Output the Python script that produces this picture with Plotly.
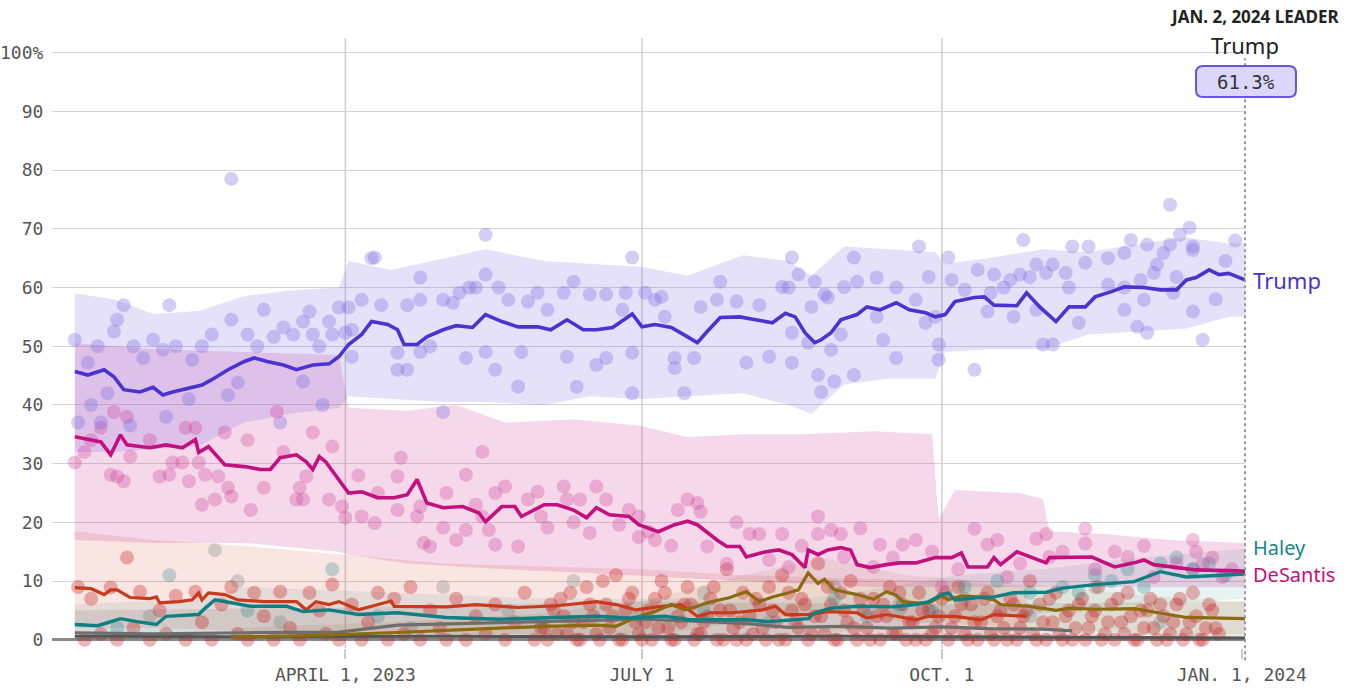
import plotly.graph_objects as go
import pandas as pd

# ---------------- DATA ----------------
def d(s):
    return s if s.startswith("2024") else "2023-" + s

trump_dates = ["01-08","01-12","01-17","01-20","01-23","01-28","02-01","02-04","02-07","02-12",
               "02-16","02-19","02-24","03-01","03-04","03-08","03-13","03-17","03-22","03-27",
               "03-30","04-02","04-06","04-09","04-14","04-17","04-19","04-23","04-26","05-01",
               "05-05","05-10","05-14","05-19","05-24","05-30","06-03","06-08","06-13","06-17",
               "06-22","06-28","07-01","07-05","07-10","07-15","07-18","07-21","07-25","07-31",
               "08-05","08-10","08-14","08-17","08-20","08-23","08-25","08-28","08-31","09-05",
               "09-08","09-12","09-17","09-21","09-26","09-29","10-02","10-05","10-11","10-14",
               "10-17","10-21","10-24","10-27","10-31","11-05","11-09","11-14","11-17","11-22",
               "11-26","12-02","12-07","12-12","12-15","12-18","12-22","12-25","12-28","2024-01-02"]
trump_values = [45.7,45.1,46,44.8,42.6,42.2,43,41.7,42.2,42.8,
                43.4,44.3,46,47.4,48,47.4,46.8,46,46.8,47,
                48.2,50.3,52,54.2,53.7,52.8,50.3,50.3,51.6,52.8,
                53.5,53.2,55.4,54.2,53.3,53.3,52.8,54.5,52.8,52.8,
                53.2,55.5,53.3,53.7,53.2,51.6,50.6,52.5,54.9,55,
                54.5,54,55.6,55,52.3,50.6,51.1,52.3,54.5,55.4,
                56.7,56.2,57.4,56.2,55.7,55,55.4,57.6,58.3,58.4,
                57,57,56.9,59.1,56.7,54.2,56.7,56.7,58.4,59.3,
                60.1,60,59.6,59.6,61.3,61.7,63,62.2,62.4,61.3]

desantis_dates = ["01-08","01-16","01-19","01-22","01-24","01-31","02-05","02-10","02-14","02-15",
                  "02-18","02-23","03-01","03-06","03-09","03-12","03-17","03-20","03-22","03-24",
                  "03-26","04-02","04-06","04-11","04-16","04-20","04-23","04-26","05-01","05-07",
                  "05-12","05-14","05-19","05-23","05-25","05-28","06-01","06-05","06-10","06-14",
                  "06-17","06-21","06-27","06-30","07-06","07-11","07-15","07-18","07-24","07-27",
                  "07-31","08-02","08-08","08-12","08-16","08-20","08-21","08-24","08-27","08-31",
                  "09-03","09-05","09-09","09-14","09-18","09-23","09-29","10-04","10-07","10-09",
                  "10-15","10-17","10-19","10-24","10-28","11-02","11-03","11-16","11-18","11-23",
                  "11-29","12-02","12-05","12-10","12-18","2024-01-02"]
desantis_values = [34.6,33.7,31.5,34.9,33.2,32.7,33.2,32.7,34.1,31.9,
                   32.9,29.8,29.5,29,29,31,31.5,30.3,29,31.2,
                   30.3,25,25.2,24.2,24.2,24.7,27.3,23.3,22.5,22.7,
                   21.6,20.1,22.7,22.7,21,21.8,23,23,22.1,20.8,
                   22.5,21.3,21,19.6,18.4,19.6,20.2,19.6,17,15.9,
                   15.9,14.1,15,15.3,14.5,12.3,15.3,14.5,15.3,15.7,
                   15.3,12.8,12.3,12.8,13.1,13.1,14,14,14.8,12.4,
                   12.4,14,12.8,15,14.1,13.1,14,14.1,13.6,12.4,
                   13.1,13.6,12.8,12.4,11.9,11.7]

haley_dates = ["01-08","01-15","01-18","01-22","01-27","02-02","02-05","02-15","02-17","02-20",
               "02-25","03-03","03-14","03-19","03-27","04-05","04-17","05-02","05-18","06-02",
               "06-17","06-27","07-08","07-16","08-02","08-09","08-21","08-23","08-28","09-05",
               "09-16","09-23","09-27","10-01","10-03","10-05","10-12","10-17","10-23","11-02",
               "11-07","11-17","11-29","12-07","12-15","2024-01-02"]
haley_values = [2.6,2.4,2.9,3.6,3.1,2.6,4,4.3,5.4,6.8,
                6.3,5.7,5.7,4.8,5.1,4.3,4.6,3.8,3.5,3.7,
                4,3.7,4,3.4,3.4,3.1,3.6,4.6,5.4,5.7,
                5.6,6,6.5,7.7,8,6.8,7.2,7.3,8,8.1,
                8.8,9.4,9.9,11.6,10.7,11.2]

pence_dates = ["01-08","01-13","01-17","01-19","01-21","01-25","01-31","02-02","02-03","02-09",
               "02-13","02-15","02-16","02-18","02-23","02-27","03-07","03-17","03-20","03-23",
               "03-27","03-30","04-05","04-09","04-15","04-16","05-02","05-11","05-24","06-05",
               "06-17","06-23","06-29","07-07","07-13","07-18","07-22","07-29","08-07","08-11",
               "08-14","08-21","08-27","09-05","09-08","09-14","09-23","09-27","10-05","10-13",
               "10-17","10-27"]
pence_values = [8.9,8.7,7.7,8.5,8.5,7.2,7,7.3,6.3,6.5,
                6.8,8,6.8,8,7.7,6.8,6.5,6.5,5.1,6.5,
                6,6.5,5.1,5.7,6.6,5.7,5.6,6,5.5,5.8,
                6.5,6,5.1,5.7,6,4,4.6,4.6,5.1,5.7,
                4.3,4.3,4.8,4.6,3.7,4.3,3.4,4,4,3.4,
                4.3,4]

ramaswamy_dates = ["02-25","03-20","04-15","05-10","06-01","06-17","06-23","06-29","07-05","07-10",
                   "07-14","07-18","07-21","07-28","08-02","08-06","08-10","08-15","08-18","08-21",
                   "08-24","08-26","08-29","09-05","09-10","09-14","09-17","09-19","09-23","09-27",
                   "10-01","10-03","10-07","10-12","10-17","10-19","10-28","11-05","11-09","11-17",
                   "11-29","12-15","2024-01-02"]
ramaswamy_values = [0.5,0.7,1.2,1.8,2.3,2.5,2.3,3.8,4.8,6,
                    5.1,5.7,6.3,7.2,8.2,6.5,7.3,8,8.5,11.4,
                    9.6,10.3,8.5,7.7,6.9,8.2,7.6,6.5,6.3,6.3,
                    7.5,6.8,7.5,7.3,6.8,6,5.7,5,5.4,5.2,
                    5.3,3.8,3.6]

scott_dates = ["01-08","02-01","03-01","03-30","04-17","05-10","06-01","06-17","07-01","07-15",
               "08-01","08-15","09-01","09-15","10-01","10-15","11-01","11-10"]
scott_values = [1.2,1.0,1.2,1.3,2.5,2.8,3.0,3.3,3.5,3.2,
                2.8,2.1,2.3,2.0,2.2,1.9,1.8,1.5]

other_dates = ["01-08","03-01","05-01","07-01","09-01","11-01","2024-01-02"]
other_values = [0.6,0.5,0.6,0.5,0.6,0.4,0.3]

# uncertainty bands
trump_band_dates = ["01-08","01-20","02-01","02-15","03-01","03-15","03-30","04-02","04-15","05-01",
                    "05-14","06-01","06-15","07-01","07-15","08-01","08-15","08-22","09-01","09-15",
                    "09-29","10-02","10-15","11-01","11-15","12-01","12-15","12-28","2024-01-02"]
trump_band_upper = [59,58,55.5,56,58.5,59.5,60,64.5,63,65,
                    66.5,64.5,64,63.5,62,65.5,64.5,62,67,66.5,
                    66,64,65,66.5,66,67.5,68.5,67.5,67.5]
trump_band_lower = [32,32,32.5,33,37,38.5,39.5,41.5,41,40.5,
                    40.5,40,41.5,41,41.5,42,40,38.5,43.5,44.5,
                    44.5,49,49.5,49.5,52,52.5,53,55,55]

desantis_band_dates = ["01-08","02-01","03-01","03-30","04-02","04-20","05-05","05-20","06-10","06-30",
                       "07-15","08-01","08-20","09-10","09-28","09-30","10-05","10-25","11-01","11-03",
                       "11-20","12-10","2024-01-02"]
desantis_band_upper = [50.5,49.5,49,48.5,39.5,39,40,37,37.5,36.5,
                       34.5,35,35,35.5,35,20.5,25.5,25,24,18.5,
                       18,17,16.5]
desantis_band_lower = [17,16.5,16.5,15,14.5,13,12.5,12,11.5,11,
                       10.5,10,9.5,9,9,9,9,9,9,9,
                       9,9,9]

pence_band_dates = ["01-08","02-01","03-01","04-01","05-01","06-01","07-01","08-01","09-01","10-01","10-27"]
pence_band_upper = [18.5,17,16,14.5,13,12.5,12,11,10.5,10,9]
pence_band_lower = [2,2,1.5,1.5,1,1,0.5,0.5,0.5,0.5,0.5]

haley_band_dates = ["01-08","02-15","03-01","04-15","06-01","07-15","08-20","09-15","10-05","11-01","12-01","2024-01-02"]
haley_band_upper = [6,7,9,8,7,7,7,9,11,12,14,15.5]
haley_band_lower = [0,0.5,1.5,1,0.5,0.5,1,2,3.5,4.5,6,7]

ramaswamy_band_dates = ["02-25","04-15","06-01","07-01","08-01","08-25","09-20","10-15","11-15","12-15","2024-01-02"]
ramaswamy_band_upper = [2,3,4.5,6.5,11,14,11,10,8.5,7,6.5]
ramaswamy_band_lower = [0,0,0,0.5,3,5,3,2.5,1.5,1,1]

grey_band_dates = ["01-08","04-01","07-01","10-01","2024-01-02"]
grey_band_upper = [5,5.5,6.5,6,6.5]
grey_band_lower = [0,0,0,0,0]

# individual polls: (days after 2023-01-01, percent)
trump_polls = [(7,51.1),(8,37),(11,47.2),(14,50),(15,37),(17,42),(19,52.5),(20,54.5),(22,57),(25,50),
    (28,48),(31,51.1),(34,49.4),(36,57),(35,38),(38,50),(43,47.7),(46,50),(49,52),(54,41.7),
    (55,78.5),(55,54.5),(57,43.8),(60,52),(63,50),(65,56.2),(68,51.6),(71,53.2),(74,52),(77,54.2),
    (79,55.9),(77,44),(80,52),(82,50),(85,54.2),(86,52),(88,56.6),(91,56.6),(92,48.2),(95,57.9),
    (98,65),(12,40),(24,36.5),(42,41),(70,37),(83,40),
    (99,65.1),(113,61.7),(133,69),(133,62.2),(128,60),(130,60),(137,60),(125,59.1),(101,57),(109,57),
    (113,57.9),(120,57.9),(123,57.4),(140,57.9),(146,57.6),(149,59.1),(152,56.2),(157,59.1),(160,61),
    (165,58.8),(170,58.8),(176,59.1),(178,65.1),(182,59.1),(185,57.9),(90,52.3),(92,52.8),(106,48.9),
    (106,46),(109,46),(113,49),(116,50),(127,48),(133,49),(136,46),(143,43.1),(144,49),(158,48.2),
    (161,43.1),(167,46.8),(170,48),(178,48.9),(178,42),(120,38.8),(191,48),(191,46.3),(194,42),
    (197,48),(205,61),(210,57.6),(213,47.2),(220,48.2),(224,60.1),(217,57),(204,57.9),(199,56.7),
    (188,55),(175,56.2),(187,58.4),
    (343,74.1),(349,70.2),(346,69),(298,68.1),(266,67),(313,67),(318,67),(331,68.1),(336,67.3),
    (343,67.3),(350,67),(227,65.1),(246,65.1),(329,65.9),(341,65.9),(324,65),(275,65.1),(302,63.9),
    (307,63.9),(317,64.2),(339,63.9),(350,66.4),(284,63),(289,62.2),(294,61.3),(300,61.8),(305,62.5),
    (311,62.5),(334,61.3),(338,62.5),(345,61.8),(324,60.5),(329,60),(335,57.9),(344,59.1),(312,60),
    (229,62.2),(234,61),(237,58.8),(243,60.1),(247,61),(253,61.7),(259,60),(269,61.8),(276,61.3),
    (280,59.6),(288,59.1),(292,60),(297,62.2),(226,60),(233,56.7),(238,58.3),(253,55),(265,57.9),
    (268,54),(271,55),(287,55.9),(295,55),(302,56.2),(329,56.2),(350,55.9),(333,53.3),(336,52.3),
    (315,54),(227,52.3),(232,50.6),(239,49.4),(242,52),(255,51.1),(272,50.3),(272,47.7),(259,48),
    (227,47.2),(235,45.1),(236,42.2),(240,44),(246,45.1),(283,46),(304,50.3),(307,50.3),(353,51.1),
    (363,68),(360,64.5),(357,58)]

desantis_polls = [(19,38.8),(23,38),(15,36.1),(7,30.2),(10,32),(18,28.1),(22,27),(20,27.8),(24,31.2),
    (33,27.8),(36,28.1),(41,36.1),(44,36.1),(40,30.2),(37,30.2),(42,27),(47,28.1),(45,30.2),(53,35.3),
    (51,27.8),(54,25.9),(55,24.4),(46,23),(50,23.9),(61,22.1),(65,25.9),(69,38.8),(71,32),(75,23.9),
    (77,23.9),(78,27.8),(80,35.3),(76,25.9),(85,23.9),(86,32.9),(89,22.7),(90,20.8),(95,21),(99,19.9),
    (106,27.8),(107,31),(106,22.1),(112,21),(113,22.7),(114,16.5),(116,15.9),(120,19.1),(124,17),
    (127,28.1),(121,25),(127,18.7),(132,21),(134,18.7),(136,16.2),(136,25),(139,26.1),(143,15.9),
    (146,23.9),(149,25.2),(152,19.1),(157,26.1),(158,23.9),(162,23.9),(165,18.2),(167,26.1),(170,23.9),
    (174,19.6),(177,22.1),(180,17.5),(183,18.4),(185,17),(192,22.1),(195,23.9),(198,23.3),(201,15.9),
    (132,32),(199,21.8),(214,18),(217,18),(224,18),(235,21),(235,18),(239,18.7),(242,18),(254,16.2),
    (261,16.2),(265,17),(283,18.9),(287,16.2),(302,17.2),(305,18),(317,18.9),(317,16.4),(326,15),
    (330,14.1),(350,17),(351,15),(353,12.9),(359,10.7),(273,9),(293,10.7),(338,10.7),(306,14.1),
    (252,12.4),(243,14.1),(226,12.4),(207,12.9),(220,13.6),(230,16),(248,19),(258,14),(270,15),
    (278,12),(290,17),(297,13),(310,15),(320,12),(335,16),(345,13),(356,14),(362,12),(210,20),
    (190,16),(180,21),(150,21),(160,20),(130,23),(100,25),(94,28),(60,34),(30,34),(12,34)]

haley_polls = [(36,11),(86,12),(20,2),(60,5),(100,4),(150,3),(200,5),(240,7),(260,6),(280,9),
    (290,10),(300,8),(310,9),(320,11),(330,12),(340,13),(345,14),(350,12),(355,13),(360,11),
    (325,10),(335,9),(315,8),(270,5),(250,4)]

grey_polls = [(50,15.3),(57,10),(120,9),(160,10),(200,8),(240,9),(280,7),(320,9),(350,12),
    (30,4),(70,3),(110,2),(140,5),(180,4),(220,3),(260,5),(300,4),(340,3)]

other_polls = [(8,9),(10,0),(12,7),(15,1),(18,8.9),(20,0),(23,14),(25,2),(27,8.2),(30,0),(33,5),(35,1),
    (38,7.5),(41,0),(44,8.2),(46,3),(49,0),(52,6),(55,9),(57,1),(60,0),(62,8),(65,4),(68,0),(70,8.2),
    (73,2),(76,0),(79,8),(82,5),(84,1),(86,9.4),(88,0),(92,6),(95,0),(97,3),(100,8),(103,0),(105,7),
    (108,1),(110,9),(113,0),(116,5),(119,2),(121,0),(124,7),(127,0),(130,4),(133,1),(136,6),(139,0),
    (142,3),(145,8),(148,0),(150,2),
    (152,0),(154,5),(156,7),(158,1),(160,3),(162,0),(164,9),(166,4),(168,0),(170,6),(171,2),(173,11),
    (175,0),(176,5),(178,8),(180,1),(182,3),(184,0),(185,7),(187,10),(189,2),(190,0),(192,4),(194,6),
    (195,9),(197,0),(199,1),(200,3),(202,7),(204,0),(205,5),(207,12),(209,2),(210,0),(212,8),(214,4),
    (215,1),(217,6),(219,0),(220,9),(222,3),(224,11),(225,0),(227,5),(229,2),(230,7),(232,0),(234,4),
    (235,13),(237,1),(239,6),(240,0),(242,8),(244,3),(245,10),(247,0),(249,5),(250,2),(252,7),(254,0),
    (256,4),(257,9),(259,1),(261,6),(262,0),(264,3),(266,8),(268,0),(269,5),(271,2),(273,7),(275,0),
    (277,4),(278,9),(280,1),(282,6),(284,0),(285,3),(287,8),(289,0),(291,5),(292,2),(294,7),(296,0),
    (298,4),(300,10),(301,1),(303,6),(305,0),(307,3),(308,8),(310,0),(312,5),(314,2),(316,7),(317,0),
    (319,4),(321,9),(323,1),(325,6),(326,0),(328,3),(330,8),(332,0),(334,5),(335,2),(337,7),(339,0),
    (341,4),(343,1),(345,6),(347,0),(349,3),(350,8),(352,0),(354,2),(356,5),(358,1),
    (151,2),(153,6),(155,1),(157,4),(159,8),(161,0),(163,3),(165,6),(167,1),(169,10),(172,4),(174,0),
    (177,7),(179,3),(181,0),(183,5),(186,2),(188,8),(191,0),(193,3),(196,6),(198,1),(201,4),(203,9),
    (206,0),(208,5),(211,3),(213,0),(216,7),(218,2),(221,5),(223,0),(226,8),(228,3),(231,6),(233,1),
    (236,4),(238,9),(241,0),(243,5),(246,2),(248,7),(251,0),(253,4),(255,6),(258,1),(260,8),(263,3),
    (265,0),(267,5),(270,1),(272,4),(274,8),(276,2),(279,6),(281,0),(283,3),(286,7),(288,1),(290,4),
    (293,0),(295,6),(297,2),(299,5),(302,0),(304,3),(306,7),(309,1),(311,4),(313,0),(315,6),(318,2),
    (320,5),(322,0),(324,3),(327,7),(329,1),(331,4),(333,0),(336,5),(338,2),(340,6),(342,0),(344,3),
    (346,7),(348,1),(351,4),(353,0),(355,6),(357,2)]

x_tick_vals = ["2023-04-01", "2023-07-01", "2023-10-01", "2024-01-01"]
x_tick_text = ["APRIL 1, 2023", "JULY 1", "OCT. 1", "JAN. 1, 2024"]
y_tick_vals = [0, 10, 20, 30, 40, 50, 60, 70, 80, 90, 100]
y_tick_text = ["0", "10", "20", "30", "40", "50", "60", "70", "80", "90", "100%"]
leader_label = "JAN. 2, 2024 LEADER"
leader_name = "Trump"

# ---------------- HELPERS ----------------
BASE = pd.Timestamp("2023-01-01")

def dates(lst):
    return [d(s) for s in lst]

def poll_xy(polls):
    xs = [(BASE + pd.Timedelta(days=p[0])).strftime("%Y-%m-%d") for p in polls]
    ys = [p[1] for p in polls]
    return xs, ys

for a, b in [(trump_dates, trump_values), (desantis_dates, desantis_values), (haley_dates, haley_values),
             (pence_dates, pence_values), (ramaswamy_dates, ramaswamy_values), (scott_dates, scott_values),
             (trump_band_dates, trump_band_upper), (trump_band_dates, trump_band_lower),
             (desantis_band_dates, desantis_band_upper), (desantis_band_dates, desantis_band_lower)]:
    assert len(a) == len(b)

fig = go.Figure()

def band(dts, lo, hi, color):
    x = dates(dts)
    fig.add_trace(go.Scatter(x=x, y=lo, mode="lines", line=dict(width=0), hoverinfo="skip", showlegend=False))
    fig.add_trace(go.Scatter(x=x, y=hi, mode="lines", line=dict(width=0), fill="tonexty",
                             fillcolor=color, hoverinfo="skip", showlegend=False))

band(grey_band_dates, grey_band_lower, grey_band_upper, "rgba(110,110,110,0.16)")
band(ramaswamy_band_dates, ramaswamy_band_lower, ramaswamy_band_upper, "rgba(139,106,16,0.10)")
band(haley_band_dates, haley_band_lower, haley_band_upper, "rgba(15,127,132,0.10)")
band(pence_band_dates, pence_band_lower, pence_band_upper, "rgba(215,80,60,0.15)")
band(desantis_band_dates, desantis_band_lower, desantis_band_upper, "rgba(205,60,150,0.20)")
band(trump_band_dates, trump_band_lower, trump_band_upper, "rgba(125,105,225,0.20)")

def dots(polls, color):
    xs, ys = poll_xy(polls)
    fig.add_trace(go.Scatter(x=xs, y=ys, mode="markers",
                             marker=dict(size=14, color=color, line=dict(width=0)),
                             hoverinfo="skip", showlegend=False))

dots(other_polls, "rgba(195,25,25,0.32)")
dots(grey_polls, "rgba(100,110,110,0.25)")
dots(haley_polls, "rgba(15,127,132,0.25)")
dots(desantis_polls, "rgba(205,60,150,0.30)")
dots(trump_polls, "rgba(125,105,225,0.33)")

def line(dts, vals, color, width=3.2):
    fig.add_trace(go.Scatter(x=dates(dts), y=vals, mode="lines",
                             line=dict(color=color, width=width), hoverinfo="skip", showlegend=False))

line(other_dates, other_values, "#555555", 3)
line(scott_dates, scott_values, "#6e6e6e", 3.2)
line(pence_dates, pence_values, "#c9391b", 3.2)
line(ramaswamy_dates, ramaswamy_values, "#8b6a10", 3.2)
line(haley_dates, haley_values, "#0f7f84", 3.4)
line(desantis_dates, desantis_values, "#c4107f", 3.6)
line(trump_dates, trump_values, "#4a33d0", 3.6)

# vertical gridlines
shapes = []
for v in x_tick_vals[:3]:
    shapes.append(dict(type="line", xref="x", yref="paper", x0=v, x1=v, y0=0, y1=1,
                       line=dict(color="#cfcfcf", width=1.5), layer="below"))
# dotted "today" line
shapes.append(dict(type="line", xref="paper", yref="paper", x0=1, x1=1, y0=-0.02, y1=0.967,
                   line=dict(color="#9a9a9a", width=2, dash="dot"), layer="above"))

def rrect(x0, y0, x1, y1, r):
    return (f"M {x0+r},{y0} L {x1-r},{y0} Q {x1},{y0} {x1},{y0+r} L {x1},{y1-r} "
            f"Q {x1},{y1} {x1-r},{y1} L {x0+r},{y1} Q {x0},{y1} {x0},{y1-r} "
            f"L {x0},{y0+r} Q {x0},{y0} {x0+r},{y0} Z")

shapes.append(dict(type="path", xref="paper", yref="paper", xsizemode="pixel", ysizemode="pixel",
                   xanchor=1, yanchor=1, path=rrect(-49, -59, 51, -28, 7),
                   fillcolor="#dcd6fb", line=dict(color="#6b52e0", width=2), layer="above"))

annotations = [
    dict(text="<b>" + leader_label + "</b>", xref="paper", yref="paper", x=1, y=1, xshift=96, yshift=22,
         xanchor="right", yanchor="middle", showarrow=False,
         font=dict(family="Noto Sans", size=17, color="#222222")),
    dict(text=leader_name, xref="paper", yref="paper", x=1, y=1, yshift=-7,
         xanchor="center", yanchor="middle", showarrow=False,
         font=dict(family="Noto Sans", size=22, color="#222222")),
    dict(text=f"{trump_values[-1]:.1f}%", xref="paper", yref="paper", x=1, y=1, xshift=1, yshift=-43.5,
         xanchor="center", yanchor="middle", showarrow=False,
         font=dict(family="DejaVu Sans Mono", size=19, color="#333333")),
    dict(text="Trump", xref="paper", yref="y", x=1, y=trump_values[-1], xshift=6,
         xanchor="left", yanchor="middle", showarrow=False,
         font=dict(family="Noto Sans", size=22, color="#4a33d0")),
    dict(text="DeSantis", xref="paper", yref="y", x=1, y=desantis_values[-1] - 0.6, xshift=6,
         xanchor="left", yanchor="middle", showarrow=False,
         font=dict(family="Noto Sans", size=20, color="#c4107f")),
    dict(text="Haley", xref="paper", yref="y", x=1, y=haley_values[-1] + 4.6, xshift=6,
         xanchor="left", yanchor="middle", showarrow=False,
         font=dict(family="Noto Sans", size=20, color="#168489")),
]

fig.update_layout(
    width=1358, height=688,
    margin=dict(l=52, r=113, t=38, b=40, autoexpand=False),
    plot_bgcolor="white", paper_bgcolor="white",
    showlegend=False,
    shapes=shapes, annotations=annotations,
    xaxis=dict(type="date", range=["2023-01-01", "2024-01-02"], automargin=False,
               tickvals=x_tick_vals, ticktext=x_tick_text,
               showgrid=False, zeroline=False, showline=False,
               ticks="outside", ticklen=10, tickcolor="#cccccc", tickwidth=1.5,
               tickfont=dict(family="DejaVu Sans Mono", size=18, color="#555555")),
    yaxis=dict(range=[-1.4, 102.5], tickvals=y_tick_vals, ticktext=y_tick_text, automargin=False,
               showgrid=True, gridcolor="#d2d2d2", gridwidth=1,
               zeroline=True, zerolinecolor="#8a8a8a", zerolinewidth=2.5,
               showline=False, ticks="outside", ticklen=4, tickcolor="rgba(0,0,0,0)",
               tickfont=dict(family="DejaVu Sans Mono", size=18, color="#555555")),
)

fig.write_html("out.html", config={"displayModeBar": False},
               post_script="document.body.style.margin='0px';document.body.style.padding='0px';"
                           "document.documentElement.style.overflow='hidden';")
